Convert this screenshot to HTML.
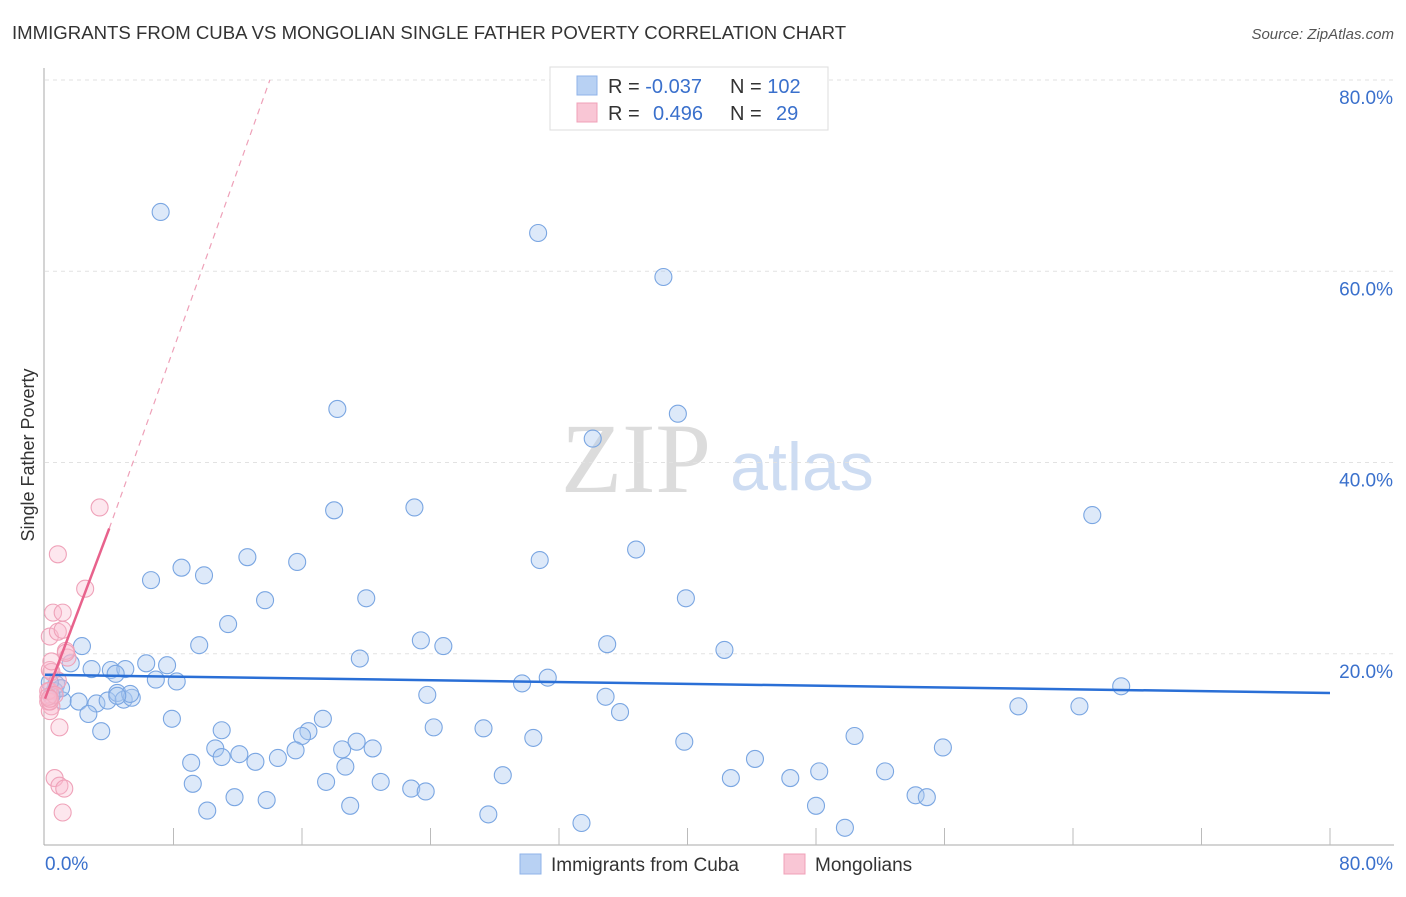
<!DOCTYPE html>
<html><head><meta charset="utf-8"><style>
body{margin:0;background:#fff;font-family:"Liberation Sans",sans-serif;}
</style></head><body>
<svg id="chart" width="1406" height="892" xmlns="http://www.w3.org/2000/svg" font-family="Liberation Sans, sans-serif">
<text x="12" y="39" font-size="18.6" fill="#333">IMMIGRANTS FROM CUBA VS MONGOLIAN SINGLE FATHER POVERTY CORRELATION CHART</text>
<text x="1394" y="39" font-size="15" fill="#555" font-style="italic" text-anchor="end">Source: ZipAtlas.com</text>
<text x="34" y="455" font-size="18" fill="#333" text-anchor="middle" transform="rotate(-90 34 455)">Single Father Poverty</text>
<text x="636" y="492" font-size="100" fill="#dcdcdc" style="font-family:'Liberation Serif',serif" text-anchor="middle">ZIP</text>
<text x="802" y="490" font-size="68" fill="#cddcf2" text-anchor="middle">atlas</text>
<g id="grid"></g><g id="axes"></g><g id="pts"></g><g id="lines"></g>
<g>
<rect x="550" y="67" width="278" height="63" fill="#fff" stroke="#ddd"/>
<rect x="577" y="76" width="20" height="19" fill="#b8d1f3" stroke="#8fb3e8"/>
<rect x="577" y="103" width="20" height="19" fill="#f9c6d5" stroke="#f0a0b8"/>
<text x="608" y="93" font-size="20" fill="#333">R = <tspan fill="#3a70cc">-0.037</tspan></text>
<text x="730" y="93" font-size="20" fill="#333">N = <tspan fill="#3a70cc">102</tspan></text>
<text x="608" y="120" font-size="20" fill="#333">R = <tspan fill="#3a70cc" x="653">0.496</tspan></text>
<text x="730" y="120" font-size="20" fill="#333">N = <tspan fill="#3a70cc" x="776">29</tspan></text>
</g>
<g>
<rect x="520" y="854" width="21" height="20" fill="#b8d1f3" stroke="#8fb3e8"/>
<text x="551" y="871" font-size="19" fill="#333">Immigrants from Cuba</text>
<rect x="784" y="854" width="21" height="20" fill="#f9c6d5" stroke="#f0a0b8"/>
<text x="815" y="871" font-size="19" fill="#333">Mongolians</text>
</g>
</svg>
<script>
const yTicks=[20,40,60,80];
const yTickLabels=["20.0%","40.0%","60.0%","80.0%"];
const xTickLabels=["0.0%","80.0%"];
const cubaX=[7.2,30.7,38.5,18.2,39.4,34.1,65.2,18,23,12.6,30.8,36.8,8.5,15.7,6.6,9.9,20,13.7,39.9,11.4,23.4,24.8,35,9.6,42.3,2.3,19.6,1.6,2.9,4.1,5,6.3,7.6,4.4,6.9,8.2,0.7,0.6,1.1,2.1,3.2,3.9,4.5,4.9,5.4,5.3,4.5,2.7,3.5,7.9,11,17.3,16.4,16,18.5,19.4,20.4,10.6,11,12.1,13.1,14.5,15.6,9.1,9.2,10.1,11.8,13.8,17.5,18.7,19,20.9,22.8,23.7,27.6,28.5,30.4,27.3,24.2,23.8,29.7,31.3,34.9,35.8,39.8,42.7,44.2,46.4,48,48.2,49.8,50.4,52.3,54.2,54.9,55.9,60.6,64.4,67,33.4,1,0.3,0.4];
const cubaY=[66.2,64,59.4,45.6,45.1,42.5,34.5,35,35.3,30.1,29.8,30.9,29,29.6,27.7,28.2,25.8,25.6,25.8,23.1,21.4,20.8,21,20.9,20.4,20.8,19.5,19,18.4,18.3,18.4,19,18.8,17.9,17.3,17.1,16.8,16.1,15.1,15,14.8,15.1,15.9,15.2,15.4,15.8,15.6,13.7,11.9,13.2,12,13.2,11.9,11.4,10,10.8,10.1,10.1,9.2,9.5,8.7,9.1,9.9,8.6,6.4,3.6,5,4.7,6.6,8.2,4.1,6.6,5.9,5.6,3.2,7.3,11.2,12.2,12.3,15.7,16.9,17.5,15.5,13.9,10.8,7,9,7,4.1,7.7,1.8,11.4,7.7,5.2,5,10.2,14.5,14.5,16.6,2.3,16.4,17,15.6];
const monX=[3.4,0.8,2.5,0.5,1.1,0.3,0.8,1.1,1.4,1.3,0.3,0.4,0.3,0.2,0.4,0.3,0.3,0.9,0.6,0.9,1.2,1.1,0.2,0.8,0.6,0.2,1.3,0.4,0.3];
const monY=[35.3,30.4,26.8,24.3,24.3,21.8,22.3,22.5,19.6,20.3,18.3,18.1,16.1,15,14.5,14,15,12.3,7,6.2,5.9,3.4,16.1,17.2,15.7,15.5,20.1,19.2,15.3];
const cubaTrend=[[0,17.8],[80,15.9]];
const monTrendSolid=[[0,15.3],[4,33.1]];
const monTrendDash=[[4,33.1],[14,80]];
const X=v=>45+v*16.0625, Y=v=>845-v*9.5625;
const NS="http://www.w3.org/2000/svg";
function mk(p,t,a){const e=document.createElementNS(NS,t);for(const k in a)e.setAttribute(k,a[k]);document.getElementById(p).appendChild(e);return e;}
yTicks.forEach((t,i)=>{
 const g=mk('grid','line',{x1:45,x2:1394,y1:Y(t),y2:Y(t),stroke:'#e2e2e2','stroke-dasharray':'4,4'});
 
 
 const l=mk('axes','text',{x:1393,y:Y(t)+24,'font-size':19,fill:'#3a70cc','text-anchor':'end'});
 l.textContent=yTickLabels[i];
 
 
});
const ax=mk('axes','line',{x1:44,x2:44,y1:68,y2:845,stroke:'#aaa'});


const bx=mk('axes','line',{x1:44,x2:1394,y1:845,y2:845,stroke:'#aaa'});


for(let i=1;i<=10;i++){const t=mk('axes','line',{x1:X(i*8),x2:X(i*8),y1:828,y2:845,stroke:'#bbb'});
 
 }
[[0,'start',45],[80,'end',1393]].forEach((d,i)=>{const l=mk('axes','text',{x:d[2],y:870,'font-size':19,fill:'#3a70cc','text-anchor':d[1]});l.textContent=xTickLabels[i];
 
 });
cubaX.forEach((v,i)=>{const c=mk('pts','circle',{cx:X(v),cy:Y(cubaY[i]),r:8.5,fill:'rgba(170,200,240,0.4)',stroke:'#7aa6e2','stroke-width':1.1});
 
 });
monX.forEach((v,i)=>{const c=mk('pts','circle',{cx:X(v),cy:Y(monY[i]),r:8.5,fill:'rgba(248,185,205,0.35)',stroke:'#efa2b9','stroke-width':1.1});
 
 });
const t1=mk('lines','line',{x1:X(cubaTrend[0][0]),y1:Y(cubaTrend[0][1]),x2:X(cubaTrend[1][0]),y2:Y(cubaTrend[1][1]),stroke:'#2a6fd6','stroke-width':2.5});


const t2=mk('lines','line',{x1:X(monTrendSolid[0][0]),y1:Y(monTrendSolid[0][1]),x2:X(monTrendSolid[1][0]),y2:Y(monTrendSolid[1][1]),stroke:'#e8628c','stroke-width':2.5});


const t3=mk('lines','line',{x1:X(monTrendDash[0][0]),y1:Y(monTrendDash[0][1]),x2:X(monTrendDash[1][0]),y2:Y(monTrendDash[1][1]),stroke:'#eea0b8','stroke-width':1.2,'stroke-dasharray':'6,5'});


</script>
</body></html>
